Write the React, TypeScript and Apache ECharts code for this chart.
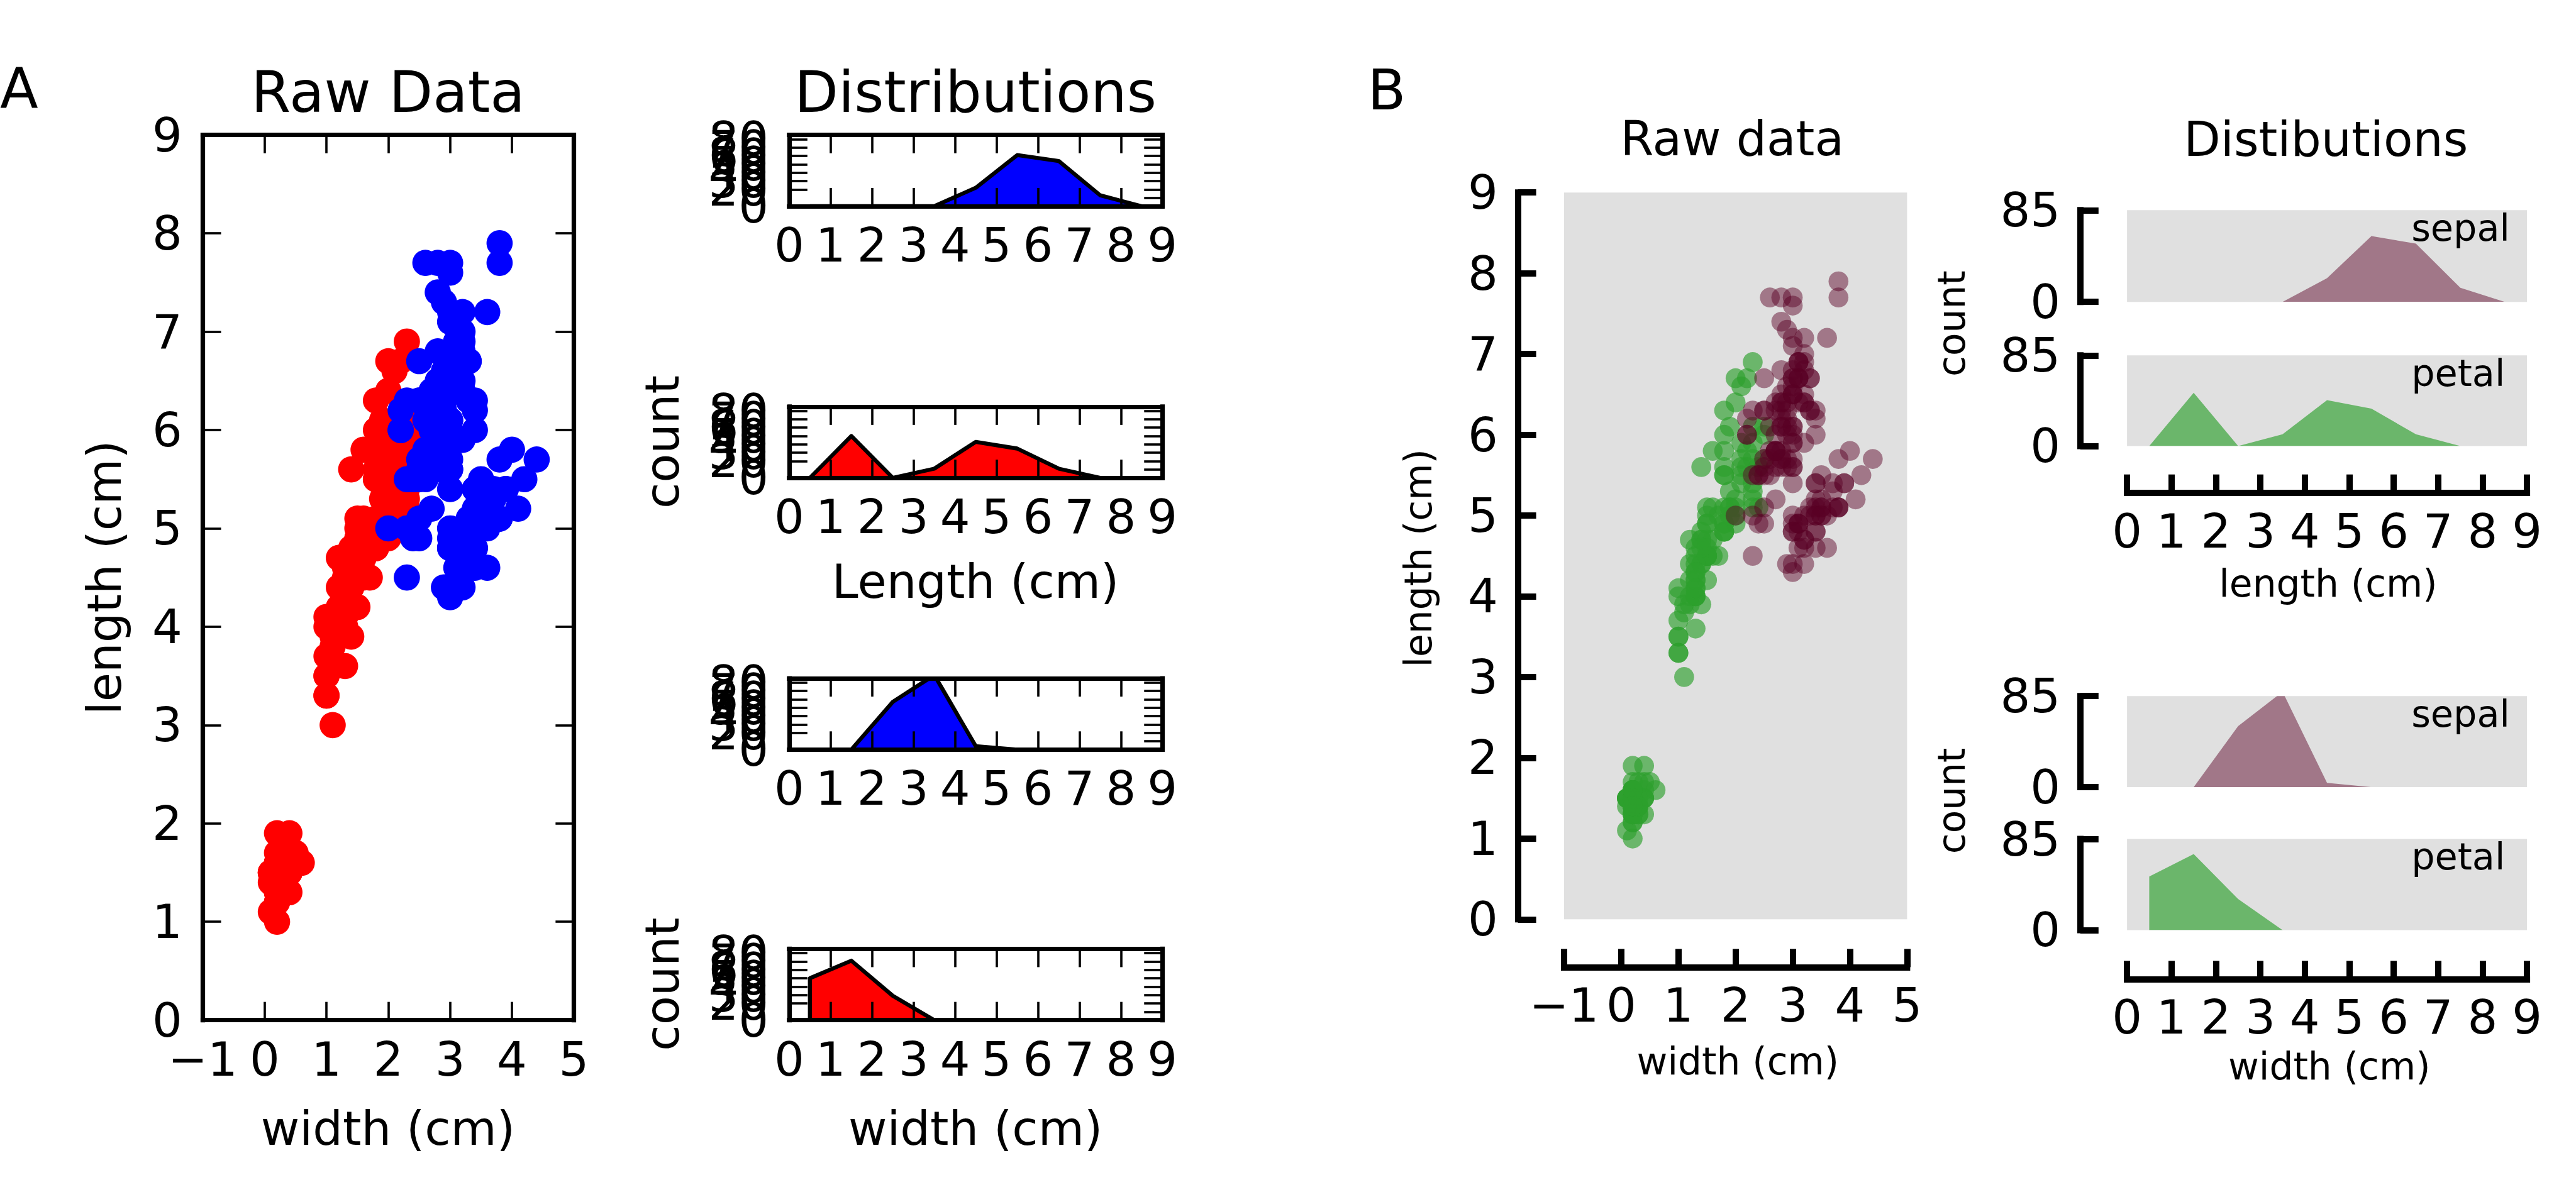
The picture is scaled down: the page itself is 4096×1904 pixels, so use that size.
import React, { useEffect, useRef } from 'react';
import * as echarts from 'echarts';

// ---------------- data (Fisher iris, 150 flowers) ----------------
const sepalLength = [
  5.1, 4.9, 4.7, 4.6, 5.0, 5.4, 4.6, 5.0, 4.4, 4.9, 5.4, 4.8, 4.8, 4.3, 5.8, 5.7, 5.4, 5.1, 5.7, 5.1, 5.4, 5.1, 4.6, 5.1, 4.8,
  5.0, 5.0, 5.2, 5.2, 4.7, 4.8, 5.4, 5.2, 5.5, 4.9, 5.0, 5.5, 4.9, 4.4, 5.1, 5.0, 4.5, 4.4, 5.0, 5.1, 4.8, 5.1, 4.6, 5.3, 5.0,
  7.0, 6.4, 6.9, 5.5, 6.5, 5.7, 6.3, 4.9, 6.6, 5.2, 5.0, 5.9, 6.0, 6.1, 5.6, 6.7, 5.6, 5.8, 6.2, 5.6, 5.9, 6.1, 6.3, 6.1, 6.4,
  6.6, 6.8, 6.7, 6.0, 5.7, 5.5, 5.5, 5.8, 6.0, 5.4, 6.0, 6.7, 6.3, 5.6, 5.5, 5.5, 6.1, 5.8, 5.0, 5.6, 5.7, 5.7, 6.2, 5.1, 5.7,
  6.3, 5.8, 7.1, 6.3, 6.5, 7.6, 4.9, 7.3, 6.7, 7.2, 6.5, 6.4, 6.8, 5.7, 5.8, 6.4, 6.5, 7.7, 7.7, 6.0, 6.9, 5.6, 7.7, 6.3, 6.7,
  7.2, 6.2, 6.1, 6.4, 7.2, 7.4, 7.9, 6.4, 6.3, 6.1, 7.7, 6.3, 6.4, 6.0, 6.9, 6.7, 6.9, 5.8, 6.8, 6.7, 6.7, 6.3, 6.5, 6.2, 5.9,
];
const sepalWidth = [
  3.5, 3.0, 3.2, 3.1, 3.6, 3.9, 3.4, 3.4, 2.9, 3.1, 3.7, 3.4, 3.0, 3.0, 4.0, 4.4, 3.9, 3.5, 3.8, 3.8, 3.4, 3.7, 3.6, 3.3, 3.4,
  3.0, 3.4, 3.5, 3.4, 3.2, 3.1, 3.4, 4.1, 4.2, 3.1, 3.2, 3.5, 3.1, 3.0, 3.4, 3.5, 2.3, 3.2, 3.5, 3.8, 3.0, 3.8, 3.2, 3.7, 3.3,
  3.2, 3.2, 3.1, 2.3, 2.8, 2.8, 3.3, 2.4, 2.9, 2.7, 2.0, 3.0, 2.2, 2.9, 2.9, 3.1, 3.0, 2.7, 2.2, 2.5, 3.2, 2.8, 2.5, 2.8, 2.9,
  3.0, 2.8, 3.0, 2.9, 2.6, 2.4, 2.4, 2.7, 2.7, 3.0, 3.4, 3.1, 2.3, 3.0, 2.5, 2.6, 3.0, 2.6, 2.3, 2.7, 3.0, 2.9, 2.9, 2.5, 2.8,
  3.3, 2.7, 3.0, 2.9, 3.0, 3.0, 2.5, 2.9, 2.5, 3.6, 3.2, 2.7, 3.0, 2.5, 2.8, 3.2, 3.0, 3.8, 2.6, 2.2, 3.2, 2.8, 2.8, 2.7, 3.3,
  3.2, 2.8, 3.0, 2.8, 3.0, 2.8, 3.8, 2.8, 2.8, 2.6, 3.0, 3.4, 3.1, 3.0, 3.1, 3.1, 3.1, 2.7, 3.2, 3.3, 3.0, 2.5, 3.0, 3.4, 3.0,
];
const petalLength = [
  1.4, 1.4, 1.3, 1.5, 1.4, 1.7, 1.4, 1.5, 1.4, 1.5, 1.5, 1.6, 1.4, 1.1, 1.2, 1.5, 1.3, 1.4, 1.7, 1.5, 1.7, 1.5, 1.0, 1.7, 1.9,
  1.6, 1.6, 1.5, 1.4, 1.6, 1.6, 1.5, 1.5, 1.4, 1.5, 1.2, 1.3, 1.5, 1.3, 1.5, 1.3, 1.3, 1.3, 1.6, 1.9, 1.4, 1.6, 1.4, 1.5, 1.4,
  4.7, 4.5, 4.9, 4.0, 4.6, 4.5, 4.7, 3.3, 4.6, 3.9, 3.5, 4.2, 4.0, 4.7, 3.6, 4.4, 4.5, 4.1, 4.5, 3.9, 4.8, 4.0, 4.9, 4.7, 4.3,
  4.4, 4.8, 5.0, 4.5, 3.5, 3.8, 3.7, 3.9, 5.1, 4.5, 4.5, 4.7, 4.4, 4.1, 4.0, 4.4, 4.6, 4.0, 3.3, 4.2, 4.2, 4.2, 4.3, 3.0, 4.1,
  6.0, 5.1, 5.9, 5.6, 5.8, 6.6, 4.5, 6.3, 5.8, 6.1, 5.1, 5.3, 5.5, 5.0, 5.1, 5.3, 5.5, 6.7, 6.9, 5.0, 5.7, 4.9, 6.7, 4.9, 5.7,
  6.0, 4.8, 4.9, 5.6, 5.8, 6.1, 6.4, 5.6, 5.1, 5.6, 6.1, 5.6, 5.5, 4.8, 5.4, 5.6, 5.1, 5.1, 5.9, 5.7, 5.2, 5.0, 5.2, 5.4, 5.1,
];
const petalWidth = [
  0.2, 0.2, 0.2, 0.2, 0.2, 0.4, 0.3, 0.2, 0.2, 0.1, 0.2, 0.2, 0.1, 0.1, 0.2, 0.4, 0.4, 0.3, 0.3, 0.3, 0.2, 0.4, 0.2, 0.5, 0.2,
  0.2, 0.4, 0.2, 0.2, 0.2, 0.2, 0.4, 0.1, 0.2, 0.1, 0.2, 0.2, 0.1, 0.2, 0.2, 0.3, 0.3, 0.2, 0.6, 0.4, 0.3, 0.2, 0.2, 0.2, 0.2,
  1.4, 1.5, 1.5, 1.3, 1.5, 1.3, 1.6, 1.0, 1.3, 1.4, 1.0, 1.5, 1.0, 1.4, 1.3, 1.4, 1.5, 1.0, 1.5, 1.1, 1.8, 1.3, 1.5, 1.2, 1.3,
  1.4, 1.4, 1.7, 1.5, 1.0, 1.1, 1.0, 1.2, 1.6, 1.5, 1.6, 1.5, 1.3, 1.3, 1.3, 1.2, 1.4, 1.2, 1.0, 1.3, 1.2, 1.3, 1.3, 1.1, 1.3,
  2.5, 1.9, 2.1, 1.8, 2.2, 2.1, 1.7, 1.8, 1.8, 2.5, 2.0, 1.9, 2.1, 2.0, 2.4, 2.3, 1.8, 2.2, 2.3, 1.5, 2.3, 2.0, 2.0, 1.8, 2.1,
  1.8, 1.8, 1.8, 2.1, 1.6, 1.9, 2.0, 2.2, 1.5, 1.4, 2.3, 2.4, 1.8, 1.8, 2.1, 2.4, 2.3, 1.9, 2.3, 2.5, 2.3, 1.9, 2.0, 2.3, 1.8,
];

// histogram (bins of 1 cm, drawn at the bin centres)
const binCenters = [0.5, 1.5, 2.5, 3.5, 4.5, 5.5, 6.5, 7.5, 8.5];
const sepalLengthCounts = [0, 0, 0, 0, 22, 61, 54, 13, 0];
const petalLengthCounts = [0, 50, 0, 11, 43, 35, 11, 0, 0];
const sepalWidthCounts = [0, 0, 57, 89, 4, 0, 0, 0, 0];
const petalWidthCounts = [50, 71, 29, 0, 0, 0, 0, 0, 0];

// ---------------- layout helpers ----------------
const SC = 0.906;
const p = (v: number) => v * SC;
const FONT = 'DejaVu Sans';
const fmt = (v: number) => (v < 0 ? '\u2212' + Math.abs(v) : String(v));

const RED = '#ff0000';
const BLUE = '#0000ff';
const GREEN = '#2ca02c';
const MAROON = '#5a0025';
const GREEN_OP = 0.65;
const MAROON_OP = 0.47;

function buildOption() {
  const grids: any[] = [];
  const xAxis: any[] = [];
  const yAxis: any[] = [];
  const series: any[] = [];

  const addGrid = (l: number, t: number, w: number, h: number, gray: boolean) => {
    grids.push({
      left: p(l), top: p(t), width: p(w), height: p(h), containLabel: false,
      show: gray, backgroundColor: gray ? '#e0e0e0' : 'transparent', borderWidth: 0,
    });
    return grids.length - 1;
  };

  const labelBase = (margin: number) => ({
    show: true, margin: p(margin), fontSize: p(83), fontFamily: FONT, color: '#000',
    showMinLabel: true, showMaxLabel: true, formatter: fmt, hideOverlap: false,
  });

  // A-style: closed box, inward ticks on every side
  const boxAxes = (gi: number, xr: [number, number], yr: [number, number], yInt: number, yFmt: any) => {
    const line = { show: true, onZero: false, lineStyle: { color: '#000', width: p(8), cap: 'square' } };
    const tick = { show: true, inside: true, length: p(32), lineStyle: { color: '#000', width: p(4) } };
    const common = { gridIndex: gi, type: 'value', splitLine: { show: false }, axisLine: line, axisTick: tick, z: 10 };
    xAxis.push({ ...common, min: xr[0], max: xr[1], interval: 1, position: 'bottom', axisLabel: labelBase(27) });
    const xi = xAxis.length - 1;
    xAxis.push({ ...common, min: xr[0], max: xr[1], interval: 1, position: 'top', axisLabel: { show: false } });
    yAxis.push({ ...common, min: yr[0], max: yr[1], interval: yInt, position: 'left', axisLabel: { ...labelBase(36), formatter: yFmt } });
    const yi = yAxis.length - 1;
    yAxis.push({ ...common, min: yr[0], max: yr[1], interval: yInt, position: 'right', axisLabel: { show: false } });
    return [xi, yi];
  };

  // B-style: offset spines, inward ticks
  const spineAxes = (gi: number, xr: [number, number], yr: [number, number], yInt: number, showX: boolean, xOff: number, yOff: number) => {
    const line = { show: true, onZero: false, lineStyle: { color: '#000', width: p(11), cap: 'square' } };
    const tick = { show: true, inside: true, length: p(32), lineStyle: { color: '#000', width: p(11) } };
    if (showX) {
      xAxis.push({
        gridIndex: gi, type: 'value', min: xr[0], max: xr[1], interval: 1, position: 'bottom', offset: p(xOff),
        splitLine: { show: false }, axisLine: line, axisTick: tick, axisLabel: labelBase(26), z: 10,
      });
    } else {
      xAxis.push({ gridIndex: gi, type: 'value', min: xr[0], max: xr[1], show: false });
    }
    const xi = xAxis.length - 1;
    yAxis.push({
      gridIndex: gi, type: 'value', min: yr[0], max: yr[1], interval: yInt, position: 'left', offset: p(yOff),
      splitLine: { show: false }, axisLine: line, axisTick: tick, axisLabel: labelBase(35), z: 10,
    });
    const yi = yAxis.length - 1;
    return [xi, yi];
  };

  const poly = (counts: number[]) => [
    [binCenters[0], 0],
    ...binCenters.map((c, i) => [c, counts[i]]),
    [binCenters[binCenters.length - 1], 0],
  ];

  const pairs = (xs: number[], ys: number[]) => xs.map((x, i) => [x, ys[i]]);

  const distFmt = (v: number) => (v % 10 === 0 ? String(v) : '');

  // ---------- Panel A ----------
  const gA0 = addGrid(356, 237, 651, 1554, false);
  const [ax0, ay0] = boxAxes(gA0, [-1, 5], [0, 9], 1, fmt);
  series.push({ type: 'scatter', xAxisIndex: ax0, yAxisIndex: ay0, data: pairs(petalWidth, petalLength), symbolSize: p(46), itemStyle: { color: RED, opacity: 1 }, z: 2 });
  series.push({ type: 'scatter', xAxisIndex: ax0, yAxisIndex: ay0, data: pairs(sepalWidth, sepalLength), symbolSize: p(46), itemStyle: { color: BLUE, opacity: 1 }, z: 3 });

  const aDists: [number, number[], string][] = [
    [237, sepalLengthCounts, BLUE],
    [714, petalLengthCounts, RED],
    [1191, sepalWidthCounts, BLUE],
    [1666, petalWidthCounts, RED],
  ];
  aDists.forEach(([top, counts, color]) => {
    const g = addGrid(1385, top, 655, 125, false);
    const [xi, yi] = boxAxes(g, [0, 9], [0, 85], 10, distFmt);
    series.push({
      type: 'line', xAxisIndex: xi, yAxisIndex: yi, data: poly(counts), symbol: 'none', showSymbol: false,
      lineStyle: { color: '#000', width: p(7), join: 'round' }, areaStyle: { color, opacity: 1 }, clip: true, z: 3,
    });
  });

  // ---------- Panel B ----------
  const gB0 = addGrid(2745, 338, 602, 1276, true);
  const [bx0, by0] = spineAxes(gB0, [-1, 5], [0, 9], 1, true, 84, 81);
  series.push({ type: 'scatter', xAxisIndex: bx0, yAxisIndex: by0, data: pairs(petalWidth, petalLength), symbolSize: p(35), itemStyle: { color: GREEN, opacity: GREEN_OP }, z: 2 });
  series.push({ type: 'scatter', xAxisIndex: bx0, yAxisIndex: by0, data: pairs(sepalWidth, sepalLength), symbolSize: p(35), itemStyle: { color: MAROON, opacity: MAROON_OP }, z: 3 });

  const bDists: [number, number, number[], string, number, boolean, number][] = [
    [369, 161, sepalLengthCounts, MAROON, MAROON_OP, false, 0],
    [624, 159, petalLengthCounts, GREEN, GREEN_OP, true, 82],
    [1222, 160, sepalWidthCounts, MAROON, MAROON_OP, false, 0],
    [1473, 160, petalWidthCounts, GREEN, GREEN_OP, true, 86],
  ];
  bDists.forEach(([top, h, counts, color, op, showX, xOff]) => {
    const g = addGrid(3733, top, 702, h, true);
    const [xi, yi] = spineAxes(g, [0, 9], [0, 85], 85, showX, xOff, 82);
    series.push({
      type: 'line', xAxisIndex: xi, yAxisIndex: yi, data: poly(counts), symbol: 'none', showSymbol: false,
      lineStyle: { width: 0, opacity: 0 }, areaStyle: { color, opacity: op }, clip: true, z: 3,
    });
  });

  // ---------- free texts ----------
  type T = { t: string; x: number; y: number; fs: number; align?: string; rot?: boolean };
  const texts: T[] = [
    { t: 'A', x: 0, y: 156, fs: 98, align: 'left' },
    { t: 'B', x: 2400, y: 158, fs: 98, align: 'left' },
    { t: 'Raw Data', x: 681, y: 162, fs: 100 },
    { t: 'Distributions', x: 1712, y: 162, fs: 100 },
    { t: 'length (cm)', x: 183, y: 1014, fs: 83, rot: true },
    { t: 'width (cm)', x: 681, y: 1981, fs: 83 },
    { t: 'count', x: 1162, y: 776, fs: 83, rot: true },
    { t: 'Length (cm)', x: 1712, y: 1021, fs: 83 },
    { t: 'count', x: 1162, y: 1728, fs: 83, rot: true },
    { t: 'width (cm)', x: 1712, y: 1981, fs: 83 },
    { t: 'Raw data', x: 3040, y: 243, fs: 84 },
    { t: 'Distibutions', x: 4082, y: 244, fs: 84 },
    { t: 'length (cm)', x: 2489, y: 980, fs: 66, rot: true },
    { t: 'width (cm)', x: 3050, y: 1864, fs: 66 },
    { t: 'count', x: 3426, y: 568, fs: 66, rot: true },
    { t: 'count', x: 3426, y: 1406, fs: 66, rot: true },
    { t: 'length (cm)', x: 4086, y: 1025, fs: 66 },
    { t: 'width (cm)', x: 4088, y: 1872, fs: 66 },
    { t: 'sepal', x: 4232, y: 400, fs: 65, align: 'left' },
    { t: 'petal', x: 4232, y: 655, fs: 65, align: 'left' },
    { t: 'sepal', x: 4232, y: 1253, fs: 65, align: 'left' },
    { t: 'petal', x: 4232, y: 1504, fs: 65, align: 'left' },
  ];
  const graphic = texts.map((d) => ({
    type: 'text',
    x: p(d.x),
    y: p(d.y),
    rotation: d.rot ? Math.PI / 2 : 0,
    z: 20,
    style: {
      text: d.t,
      fontSize: p(d.fs),
      fontFamily: FONT,
      fill: '#000',
      textAlign: d.align || 'center',
      align: d.align || 'center',
      textVerticalAlign: 'middle',
      verticalAlign: 'middle',
    },
  }));

  return {
    animation: false,
    backgroundColor: '#ffffff',
    textStyle: { fontFamily: FONT },
    grid: grids,
    xAxis,
    yAxis,
    series,
    graphic,
  };
}

export default function App() {
  const ref = useRef<HTMLDivElement>(null);
  useEffect(() => {
    if (!ref.current) return;
    const chart = echarts.init(ref.current, undefined, { renderer: 'svg' });
    chart.setOption(buildOption() as any);
    return () => chart.dispose();
  }, []);
  return (
    <div
      ref={ref}
      style={{ position: 'absolute', left: 0, top: 0, width: 4096, height: 1904, background: '#fff' }}
    />
  );
}
